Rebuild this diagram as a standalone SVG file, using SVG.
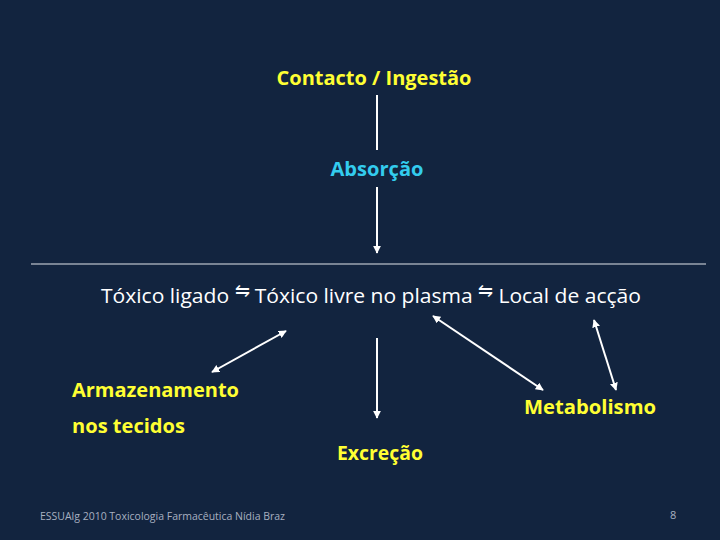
<svg xmlns="http://www.w3.org/2000/svg" width="720" height="540" viewBox="0 0 720 540">
<defs>
<marker id="ah" viewBox="0 0 10 10" refX="9" refY="5" markerWidth="4" markerHeight="4" orient="auto-start-reverse" markerUnits="strokeWidth">
<path d="M0,0 L10,5 L0,10 z" fill="#ffffff"/>
</marker>
<style>
.y{fill:#ffff33;font-family:"Open Sans","Liberation Sans",sans-serif;font-weight:bold;font-size:20px}
.c{fill:#33ccee;font-family:"Open Sans","Liberation Sans",sans-serif;font-weight:bold;font-size:20px}
.w{fill:#ffffff;font-family:"Open Sans","Liberation Sans",sans-serif;font-size:20px}
.f{fill:#a8b0c0;font-family:"Open Sans","Liberation Sans",sans-serif;font-size:11px}
.ln{stroke:#ffffff;stroke-width:2;fill:none}
</style>
</defs>
<rect width="720" height="540" fill="#12243f"/>
<g id="contacto"><text class="y" x="374" y="85" text-anchor="middle" textLength="195" lengthAdjust="spacingAndGlyphs">Contacto / Ingestão</text></g>
<g id="absorcao"><text class="c" x="377" y="176" text-anchor="middle" textLength="93" lengthAdjust="spacingAndGlyphs">Absorção</text></g>
<g id="plasma"><text class="w" x="101" y="303" textLength="540" lengthAdjust="spacingAndGlyphs">Tóxico ligado <tspan font-size="17" dy="-6">⇋</tspan><tspan dy="6"> Tóxico livre no plasma </tspan><tspan font-size="17" dy="-6">⇋</tspan><tspan dy="6"> Local de acção</tspan></text></g>
<g id="armazenamento"><text class="y" x="72" y="397" textLength="167" lengthAdjust="spacingAndGlyphs">Armazenamento</text><text class="y" x="72" y="433" textLength="113" lengthAdjust="spacingAndGlyphs">nos tecidos</text></g>
<g id="metabolismo"><text class="y" x="524" y="414" textLength="132" lengthAdjust="spacingAndGlyphs">Metabolismo</text></g>
<g id="excrecao"><text class="y" x="337" y="460" textLength="86" lengthAdjust="spacingAndGlyphs">Excreção</text></g>
<g id="footer"><text class="f" x="40" y="520" textLength="245" lengthAdjust="spacingAndGlyphs">ESSUAlg 2010 Toxicologia Farmacêutica Nídia Braz</text><text class="f" x="670" y="519">8</text></g>
<g id="connectors">
<line class="ln" x1="377" y1="95" x2="377" y2="150"/>
<line class="ln" x1="377" y1="187" x2="377" y2="253" marker-end="url(#ah)"/>
<line x1="31" y1="264" x2="706" y2="264" stroke="#e0e4ea" stroke-width="1"/>
<line class="ln" x1="286" y1="331" x2="212" y2="372" marker-start="url(#ah)" marker-end="url(#ah)"/>
<line class="ln" x1="377" y1="338" x2="377" y2="418" marker-end="url(#ah)"/>
<line class="ln" x1="433" y1="316" x2="543" y2="390" marker-start="url(#ah)" marker-end="url(#ah)"/>
<line class="ln" x1="594" y1="320" x2="616" y2="390" marker-start="url(#ah)" marker-end="url(#ah)"/>
</g>
</svg>
